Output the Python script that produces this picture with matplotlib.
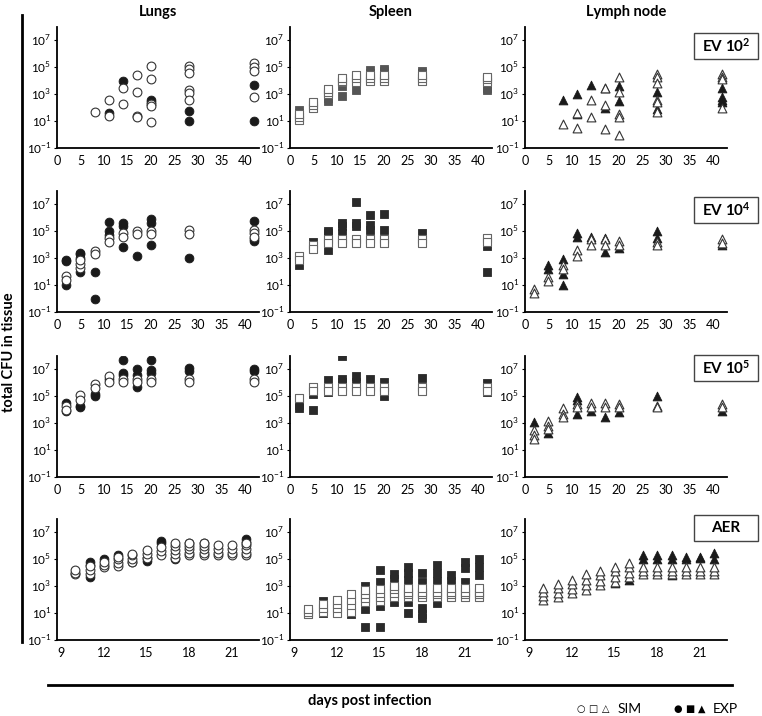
import matplotlib
matplotlib.use("Agg")
import matplotlib.pyplot as plt
from matplotlib.lines import Line2D
from matplotlib.patches import Rectangle
from matplotlib.ticker import NullLocator

plt.rcParams["font.family"] = ["Lato", "DejaVu Sans"]
plt.rcParams["mathtext.fontset"] = "custom"
plt.rcParams["mathtext.rm"] = "Lato"
plt.rcParams["mathtext.bf"] = "Lato:bold"

# ---- data: log10(total CFU) per day ----
tissues = ["Lungs", "Spleen", "Lymph node"]
row_labels = [r"EV $\mathbf{10^{2}}$", r"EV $\mathbf{10^{4}}$", r"EV $\mathbf{10^{5}}$", "AER"]

ev_ticks = [0, 5, 10, 15, 20, 25, 30, 35, 40]
aer_ticks = [9, 12, 15, 18, 21]
y_ticks = [-1, 1, 3, 5, 7]

# EV 10^2
lungs_ev2_sim = {8: [1.7], 11: [2.6, 1.35], 14: [3.5, 2.3], 17: [4.4, 3.2, 1.4, 1.3],
                 20: [5.1, 4.1, 2.3, 2.1, 0.9], 28: [5.1, 4.9, 4.6, 3.3, 3.1, 2.6],
                 42: [5.3, 5.0, 4.7, 2.8]}
lungs_ev2_exp = {11: [1.6], 14: [4.0], 20: [2.6, 2.4], 28: [1.75, 1.0], 42: [3.7, 1.0]}
spleen_ev2_sim = {2: [1.1, 1.3, 1.5], 5: [2.0, 2.2, 2.4], 8: [3.0, 3.2, 3.4], 11: [3.9, 4.0, 4.2],
                  14: [3.9, 4.2, 4.4], 17: [4.0, 4.2, 4.4], 20: [4.0, 4.2, 4.4],
                  28: [4.0, 4.2, 4.4], 42: [3.9, 4.1, 4.3]}
spleen_ev2_exp = {2: [1.6, 1.8], 8: [2.5, 2.7], 11: [2.9, 3.6], 14: [3.3], 17: [4.6, 4.8],
                  20: [4.7, 4.9], 28: [4.6, 4.7], 42: [3.3, 3.5, 3.7]}
lymph_ev2_sim = {8: [0.8], 11: [1.6, 0.5], 14: [2.6, 1.3], 17: [3.5, 2.2, 0.4],
                 20: [4.3, 3.2, 1.5, 1.3, 0.0], 28: [4.5, 4.3, 3.8, 2.6, 2.4, 1.7],
                 42: [4.5, 4.3, 4.1, 2.0]}
lymph_ev2_exp = {8: [2.6], 11: [3.0, 1.5], 14: [3.7], 17: [3.5, 2.0], 20: [3.6, 2.5],
                 28: [3.2, 1.9], 42: [3.45, 2.8, 2.6, 2.4]}

# EV 10^4
lungs_ev4_sim = {2: [1.7, 1.4], 5: [2.3, 2.6, 2.9], 8: [3.55, 3.3], 11: [4.5, 4.2], 14: [4.9, 4.6],
                 17: [5.05, 4.8], 20: [5.0, 4.8], 28: [5.1, 4.8], 42: [5.1, 4.9, 4.6]}
lungs_ev4_exp = {2: [2.9, 2.8, 1.0], 5: [2.0, 3.0, 3.3, 3.4], 8: [2.0, 0.0], 11: [5.7, 5.0, 4.7],
                 14: [5.6, 5.4, 3.8], 17: [3.2], 20: [5.9, 5.6, 4.0], 28: [3.0], 42: [5.8, 4.4, 4.3]}
spleen_ev4_sim = {2: [3.2, 2.9], 5: [4.0, 3.7], 8: [4.4, 4.1], 11: [4.4, 4.1], 14: [4.4, 4.1],
                  17: [4.4, 4.1], 20: [4.4, 4.1], 28: [4.4, 4.1], 42: [4.5, 4.2]}
spleen_ev4_exp = {2: [2.5], 5: [4.2], 8: [5.0, 4.85, 3.6], 11: [5.6, 5.4, 4.85],
                  14: [7.2, 5.6, 5.4], 17: [6.25, 5.5, 5.1], 20: [6.3, 5.1], 28: [4.9], 42: [3.9, 2.0]}
lymph_ev4_sim = {2: [0.7, 0.4], 5: [1.6, 1.3], 8: [2.5, 2.2], 11: [3.6, 3.2], 14: [4.4, 4.0],
                 17: [4.4, 4.0], 20: [4.3, 4.0], 28: [4.2, 4.0], 42: [4.4, 4.1]}
lymph_ev4_exp = {5: [2.5, 2.2], 8: [2.95, 1.85, 1.0], 11: [4.9, 4.6], 14: [4.6], 17: [4.5, 3.5],
                 20: [3.75], 28: [5.0, 4.5], 42: [4.0]}

# EV 10^5
lungs_ev5_sim = {2: [4.25, 4.0], 5: [5.1, 4.7], 8: [5.95, 5.6], 11: [6.5, 6.1], 14: [6.3, 6.1],
                 17: [6.3, 6.1], 20: [6.3, 6.1], 28: [6.3, 6.1], 42: [6.3, 6.1]}
lungs_ev5_exp = {2: [4.5, 3.9], 5: [4.3, 4.2], 8: [5.2, 5.0], 11: [6.3], 14: [7.7, 6.7, 6.6],
                 17: [7.05, 6.6, 5.7], 20: [7.7, 6.95, 6.7], 28: [7.1, 6.85], 42: [7.0, 6.85]}
spleen_ev5_sim = {2: [4.85], 5: [5.7, 5.4], 8: [5.7, 5.4], 11: [5.7, 5.4], 14: [5.7, 5.4],
                  17: [5.7, 5.4], 20: [5.7, 5.4], 28: [5.7, 5.4], 42: [5.7, 5.4]}
spleen_ev5_exp = {2: [4.35, 4.1], 5: [5.2, 4.0], 8: [6.2, 5.3], 11: [8.0, 6.3, 6.1], 14: [6.5, 6.1],
                  17: [6.3], 20: [6.1, 5.0], 28: [6.4], 42: [6.0, 5.3]}
lymph_ev5_sim = {2: [2.5, 2.1, 1.8], 5: [3.2, 2.8, 2.6], 8: [4.1, 3.7, 3.5], 11: [4.4, 4.2],
                 14: [4.5, 4.2], 17: [4.5, 4.2], 20: [4.4, 4.2], 28: [4.3, 4.2], 42: [4.4, 4.2]}
lymph_ev5_exp = {2: [3.1], 5: [2.3], 11: [4.95, 4.7, 3.7], 14: [3.9], 17: [3.5], 20: [3.85],
                 28: [5.05], 42: [3.9]}

# AER
lungs_aer_sim = {10: [3.9, 4.0, 4.2], 11: [3.9, 4.2, 4.5], 12: [4.4, 4.6, 4.8],
                 13: [4.5, 4.7, 5.0, 5.2], 14: [4.8, 5.0, 5.3, 5.4], 15: [5.1, 5.4, 5.7],
                 16: [5.3, 5.6, 5.9], 17: [5.1, 5.4, 5.7, 6.0, 6.2], 18: [5.3, 5.5, 5.8, 6.0, 6.2],
                 19: [5.3, 5.5, 5.8, 6.0, 6.2], 20: [5.3, 5.5, 5.8, 6.1], 21: [5.3, 5.5, 5.8, 6.1],
                 22: [5.3, 5.5, 5.8, 6.1, 6.2]}
lungs_aer_exp = {11: [3.7, 4.8, 4.6], 12: [5.0], 13: [5.3], 14: [4.8], 15: [4.9, 5.1],
                 16: [6.4, 6.2], 17: [5.0], 18: [6.2], 19: [6.2], 22: [6.5, 6.3]}
spleen_aer_sim = {10: [0.9, 1.1, 1.3], 11: [1.1, 1.4, 1.7], 12: [1.0, 1.4, 1.7, 2.0],
                  13: [1.1, 1.6, 2.0, 2.4], 14: [1.8, 2.1, 2.4, 2.7], 15: [1.9, 2.2, 2.5, 2.8],
                  16: [2.2, 2.5, 2.8, 3.0], 17: [2.2, 2.4, 2.6, 2.9], 18: [2.2, 2.4, 2.6, 2.9],
                  19: [2.2, 2.4, 2.6, 2.9], 20: [2.2, 2.4, 2.6, 2.9], 21: [2.2, 2.4, 2.6, 2.9],
                  22: [2.2, 2.4, 2.6, 2.9]}
spleen_aer_exp = {11: [1.9, 1.0], 12: [1.4], 13: [0.9], 14: [3.0, 1.3, 0.0], 15: [4.2, 3.3, 1.5, 0.0],
                  16: [3.9, 3.55, 1.8], 17: [4.45, 4.0, 3.5, 1.85, 1.0], 18: [3.95, 3.3, 1.4, 0.9, 0.65],
                  19: [4.6, 4.0, 3.4, 1.75], 20: [3.85, 3.4], 21: [4.8, 4.35, 3.3], 22: [5.0, 4.45, 3.85]}
lymph_aer_sim = {10: [2.0, 2.3, 2.6, 2.9], 11: [2.2, 2.5, 2.9, 3.2], 12: [2.5, 2.8, 3.2, 3.5],
                 13: [2.75, 3.1, 3.5, 3.9], 14: [3.1, 3.4, 3.8, 4.1], 15: [3.35, 3.7, 4.1, 4.4],
                 16: [3.65, 4.0, 4.4, 4.75], 17: [3.9, 4.1, 4.4], 18: [3.9, 4.1, 4.4],
                 19: [3.9, 4.1, 4.4], 20: [3.9, 4.1, 4.4], 21: [3.9, 4.1, 4.4], 22: [3.9, 4.1, 4.4]}
lymph_aer_exp = {15: [3.25], 16: [3.5], 17: [5.0, 5.3], 18: [5.0, 5.3], 19: [5.0, 5.3, 3.8],
                 20: [5.0, 5.2], 21: [5.2, 5.1], 22: [5.5, 5.0]}

panels = [
    [(lungs_ev2_sim, lungs_ev2_exp), (spleen_ev2_sim, spleen_ev2_exp), (lymph_ev2_sim, lymph_ev2_exp)],
    [(lungs_ev4_sim, lungs_ev4_exp), (spleen_ev4_sim, spleen_ev4_exp), (lymph_ev4_sim, lymph_ev4_exp)],
    [(lungs_ev5_sim, lungs_ev5_exp), (spleen_ev5_sim, spleen_ev5_exp), (lymph_ev5_sim, lymph_ev5_exp)],
    [(lungs_aer_sim, lungs_aer_exp), (spleen_aer_sim, spleen_aer_exp), (lymph_aer_sim, lymph_aer_exp)],
]

markers = ["o", "s", "^"]
sim_edge = ["#333333", "#666666", "#333333"]
exp_color = [["#1a1a1a", "#555555", "#1a1a1a"]] + [["#1a1a1a", "#2a2a2a", "#1a1a1a"]] * 3


def flatten(d):
    xs, ys = [], []
    for day, vals in d.items():
        for v in vals:
            xs.append(day)
            ys.append(10.0 ** v)
    return xs, ys


# ---- layout (pixel positions of the reference) ----
W, H = 762, 716
fig = plt.figure(figsize=(W / 100, H / 100), dpi=100)

col_left = [57, 290, 525]
col_width = 202
row_bottom = [148, 312, 477, 640]
row_height = 121
box_top = [33, 197, 355, 515]

for r in range(4):
    for c in range(3):
        ax = fig.add_axes([col_left[c] / W, 1 - row_bottom[r] / H, col_width / W, row_height / H])
        sim, exp = panels[r][c]
        xs, ys = flatten(exp)
        ax.scatter(xs, ys, marker=markers[c], s=40, facecolor=exp_color[r][c],
                   edgecolor=exp_color[r][c], linewidth=0.6, zorder=3)
        xs, ys = flatten(sim)
        ax.scatter(xs, ys, marker=markers[c], s=40, facecolor="white",
                   edgecolor=sim_edge[c], linewidth=0.8, zorder=4)

        ax.set_yscale("log")
        ax.set_ylim(10 ** -1, 10 ** 8)
        ax.set_yticks([10.0 ** t for t in y_ticks])
        ax.set_yticklabels([r"$10^{%d}$" % t for t in y_ticks])
        ax.yaxis.set_minor_locator(NullLocator())
        if r < 3:
            ax.set_xlim(0, 43)
            ax.set_xticks(ev_ticks)
        else:
            ax.set_xlim(8.7, 22.9)
            ax.set_xticks(aer_ticks)
        ax.tick_params(axis="x", length=0, pad=5, labelsize=9)
        ax.tick_params(axis="y", length=2, width=0.8, pad=2, labelsize=8.5)
        for side in ["top", "right"]:
            ax.spines[side].set_visible(False)
        for side in ["left", "bottom"]:
            ax.spines[side].set_linewidth(1.3)
        ax.patch.set_visible(False)

        if r == 0:
            ax.set_title(tissues[c], fontsize=10.5, fontweight="bold", pad=8)

    # condition box
    bx0, bw, bh = 694, 64, 26
    fig.add_artist(Rectangle((bx0 / W, 1 - (box_top[r] + bh) / H), bw / W, bh / H,
                             transform=fig.transFigure, facecolor="white",
                             edgecolor="#444444", linewidth=1))
    fig.text((bx0 + bw / 2) / W, 1 - (box_top[r] + bh / 2) / H, row_labels[r],
             ha="center", va="center", fontsize=11, fontweight="bold")

# frame lines and shared labels
fig.add_artist(Line2D([22 / W, 22 / W], [1 - 15 / H, 1 - 642 / H], color="black", lw=2))
fig.add_artist(Line2D([48 / W, 732 / W], [1 - 685 / H, 1 - 685 / H], color="black", lw=2))
fig.text(9 / W, 1 - 352 / H, "total CFU in tissue", rotation=90, ha="center", va="center",
         fontsize=10.5, fontweight="bold")
fig.text(370 / W, 1 - 701 / H, "days post infection", ha="center", va="center",
         fontsize=10.5, fontweight="bold")

# legend: marker glyphs placed one by one
legend_y = 1 - 709 / H
for sym, x in zip(["\u25cb", "\u25a1", "\u25b3"], [581, 593, 606]):
    fig.text(x / W, legend_y, sym, ha="center", va="center", fontsize=7, family=["DejaVu Sans"])
for sym, x in zip(["\u25cf", "\u25a0", "\u25b2"], [678, 690, 702]):
    fig.text(x / W, legend_y, sym, ha="center", va="center", fontsize=7, family=["DejaVu Sans"])
fig.text(618 / W, legend_y, "SIM", ha="left", va="center", fontsize=10)
fig.text(713 / W, legend_y, "EXP", ha="left", va="center", fontsize=10)

fig.savefig("out.png", dpi=100)
